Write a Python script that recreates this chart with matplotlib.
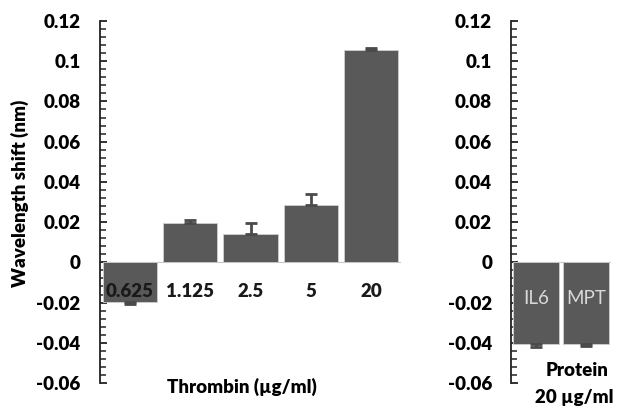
import matplotlib
matplotlib.use("Agg")
import matplotlib.pyplot as plt
from matplotlib.ticker import MultipleLocator, FuncFormatter

# --- data ---------------------------------------------------------------
thrombin_labels = ["0.625", "1.125", "2.5", "5", "20"]
thrombin_shift = [-0.0199, 0.0197, 0.0140, 0.0284, 0.1055]
thrombin_err = [0.0010, 0.0015, 0.0055, 0.0055, 0.0010]

protein_labels = ["IL6", "MPT"]
protein_shift = [-0.0407, -0.0405]
protein_err = [0.0015, 0.0010]

BAR = "#595959"
EDGE = "#d0d0d0"
FONT = ["Lato", "DejaVu Sans"]
W = "heavy"

plt.rcParams["font.family"] = FONT


def one_sided(vals, errs):
    lo = [e if v < 0 else 0 for v, e in zip(vals, errs)]
    hi = [e if v >= 0 else 0 for v, e in zip(vals, errs)]
    return [lo, hi]


def style_axis(ax):
    ax.set_ylim(-0.06, 0.12)
    ax.yaxis.set_major_locator(MultipleLocator(0.02))
    ax.yaxis.set_minor_locator(MultipleLocator(0.004))
    ax.yaxis.set_major_formatter(FuncFormatter(lambda v, p: f"{round(v, 3):g}"))
    for s in ["top", "right", "bottom"]:
        ax.spines[s].set_visible(False)
    ax.spines["left"].set_color("#222222")
    ax.spines["left"].set_linewidth(1.3)
    ax.tick_params(axis="y", which="major", direction="in", length=5, width=1.3,
                   color="#222222", pad=14, labelsize=13.5)
    ax.tick_params(axis="y", which="minor", direction="in", length=4, width=1.1,
                   color="#222222")
    for lab in ax.get_yticklabels():
        lab.set_fontweight(W)
    ax.set_xticks([])
    ax.axhline(0, color="#c8c8c8", lw=0.8, zorder=1)


fig = plt.figure(figsize=(6.17, 4.07), dpi=100)
ax1 = fig.add_axes([0.162, 0.059, 0.488, 0.8894])
ax2 = fig.add_axes([0.829, 0.059, 0.162, 0.8894])

x1 = range(len(thrombin_labels))
ax1.bar(x1, thrombin_shift, width=0.9, color=BAR, edgecolor=EDGE, linewidth=0.6,
        yerr=one_sided(thrombin_shift, thrombin_err),
        error_kw=dict(ecolor="#4a4a4a", elinewidth=2, capsize=4, capthick=2), zorder=2)
ax1.set_xlim(-0.5, len(thrombin_labels) - 0.5)
style_axis(ax1)
for xi, lab in zip(x1, thrombin_labels):
    ax1.text(xi, -0.0145, lab, ha="center", va="center", fontsize=13.5,
             fontweight=W, color="#1a1a1a", zorder=3)

x2 = range(len(protein_labels))
ax2.bar(x2, protein_shift, width=0.92, color=BAR, edgecolor=EDGE, linewidth=0.6,
        yerr=one_sided(protein_shift, protein_err),
        error_kw=dict(ecolor="#4a4a4a", elinewidth=2, capsize=4, capthick=2), zorder=2)
ax2.set_xlim(-0.5, len(protein_labels) - 0.5)
style_axis(ax2)
for xi, lab in zip(x2, protein_labels):
    ax2.text(xi, -0.0178, lab, ha="center", va="center", fontsize=13.5,
             color="#d9d9d9", zorder=3)

fig.text(20 / 617, 1 - 193 / 407, "Wavelength shift (nm)", rotation=90,
         ha="center", va="center", fontsize=13.5, fontweight=W)
fig.text(242 / 617, 1 - 387 / 407, "Thrombin (µg/ml)", ha="center", va="center",
         fontsize=13.5, fontweight=W)
fig.text(577 / 617, 1 - 370 / 407, "Protein", ha="center", va="center",
         fontsize=13.5, fontweight=W)
fig.text(574 / 617, 1 - 397 / 407, "20 µg/ml", ha="center", va="center",
         fontsize=13.5, fontweight=W)

fig.savefig("out.png", dpi=100)
